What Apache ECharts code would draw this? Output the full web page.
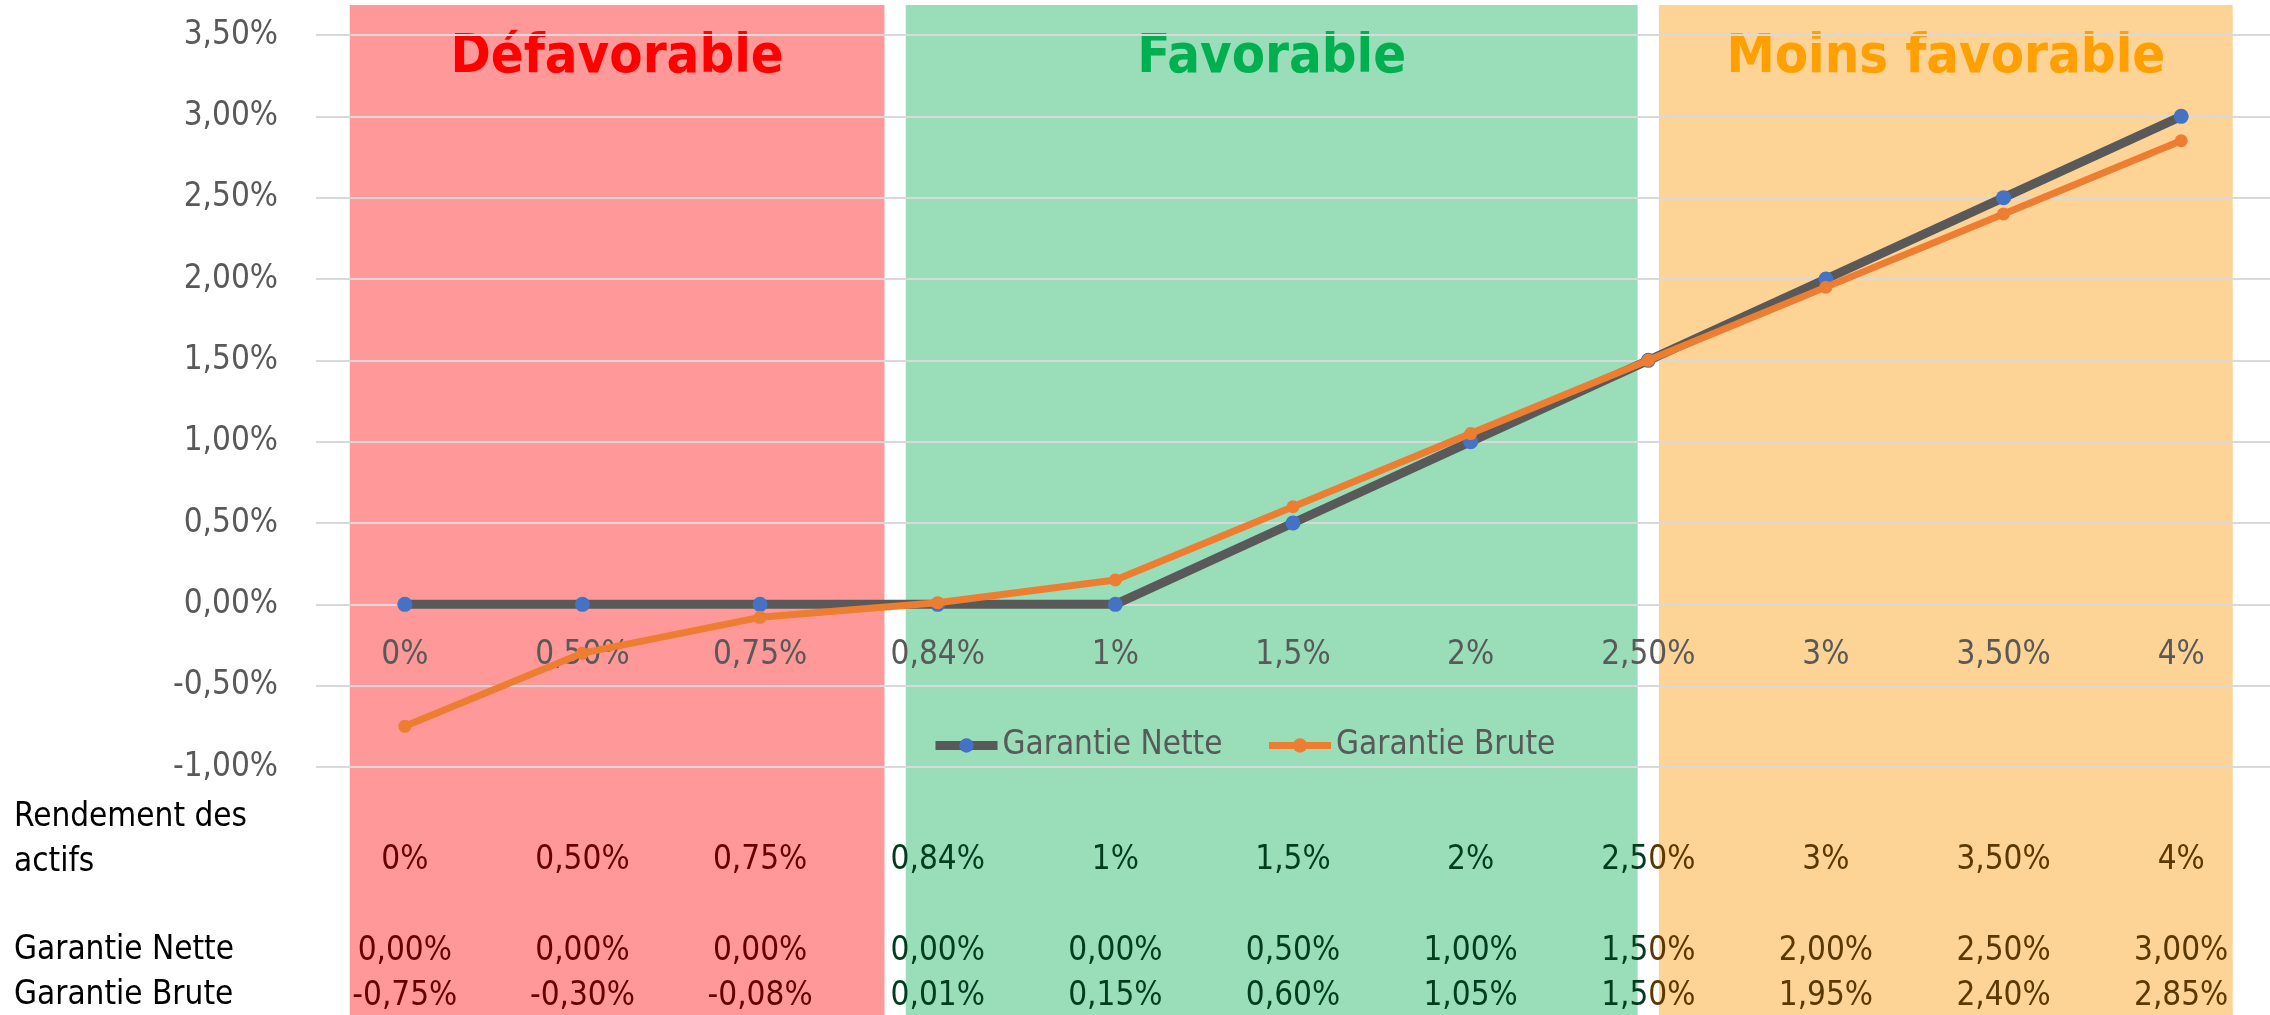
<!DOCTYPE html>
<html>
<head>
<meta charset="utf-8">
<script src="https://cdn.jsdelivr.net/npm/echarts@6/dist/echarts.min.js"></script>
<style>
html, body { margin: 0; padding: 0; background: #fff; }
#chart { width: 2270px; height: 1015px; }
</style>
</head>
<body>
<div id="chart"></div>
<script>
// données
var categories = ['0%', '0,50%', '0,75%', '0,84%', '1%', '1,5%', '2%', '2,50%', '3%', '3,50%', '4%'];
var garantieNette = [0, 0, 0, 0, 0, 0.5, 1, 1.5, 2, 2.5, 3];
var garantieBrute = [-0.75, -0.30, -0.08, 0.01, 0.15, 0.60, 1.05, 1.50, 1.95, 2.40, 2.85];
var yMin = -1, yMax = 3.5, yStep = 0.5;

// zones (en unités d'index de catégorie)
var zoneNames = ['Défavorable', 'Favorable', 'Moins favorable'];
var zoneStart = [-0.31, 2.82, 7.06];
var zoneEnd = [2.70, 6.94, 10.29];

var FONT = '"Liberation Sans Narrow", "DejaVu Sans Condensed", sans-serif';
var FS = 33;
var zoneFill = ['#FF9999', '#99DDB9', '#FDD396'];
var zoneTitle = ['#FF0000', '#00B050', '#FF9F00'];
var zoneText = ['#640000', '#003C1E', '#5A3800'];

var gridTop = 35, gridBottom = 248, gridH = 1015 - gridTop - gridBottom;
// ligne du zéro : décalage de l'axe des x depuis le bas de la grille
var zeroOffset = -(0 - yMin) / (yMax - yMin) * gridH;

function pct(v) {
    return v.toFixed(2).replace('.', ',') + '%';
}

function zoneOf(i) {
    for (var z = 0; z < zoneStart.length; z++) {
        if (i >= zoneStart[z] && i <= zoneEnd[z]) return z;
    }
    return -1;
}

// colonne à cheval entre deux zones : texte coupé en deux couleurs
function tableLabel(value, index) {
    if (zoneOf(index) >= 0) return value;
    return '{a|' + value.slice(0, 3) + '}{b|' + value.slice(3) + '}';
}

var tableRich = {
    a: { color: zoneText[1], fontSize: FS, fontFamily: FONT },
    b: { color: zoneText[2], fontSize: FS, fontFamily: FONT }
};

function tableAxis(data, offset) {
    return {
        type: 'category',
        gridIndex: 0,
        position: 'bottom',
        offset: offset,
        data: data,
        z: 3,
        axisLine: { show: false, onZero: false },
        axisTick: { show: false },
        splitLine: { show: false },
        axisLabel: {
            interval: 0,
            margin: 0,
            fontSize: FS,
            fontFamily: FONT,
            color: function (v, i) { var z = zoneOf(i); return z >= 0 ? zoneText[z] : '#000'; },
            formatter: tableLabel,
            rich: tableRich
        }
    };
}

var zoneAreas = zoneNames.map(function (name, z) {
    return [{
        name: name,
        xAxis: zoneStart[z],
        yAxis: 0,
        itemStyle: { color: zoneFill[z] },
        label: { color: zoneTitle[z] }
    }, {
        xAxis: zoneEnd[z],
        yAxis: 1
    }];
});

var option = {
    backgroundColor: '#fff',
    animation: false,
    textStyle: { fontFamily: FONT },
    grid: [
        { left: 316, top: gridTop, width: 1961, bottom: gridBottom },
        { left: 316, top: 5, width: 1961, bottom: 0 }
    ],
    legend: {
        left: 926,
        top: 724,
        itemWidth: 62,
        itemHeight: 18,
        itemGap: 43,
        lineStyle: { width: 'inherit' },
        textStyle: { fontSize: FS, color: '#595959', fontFamily: FONT },
        data: ['Garantie Nette', 'Garantie Brute']
    },
    xAxis: [
        {
            type: 'category',
            gridIndex: 0,
            position: 'bottom',
            offset: zeroOffset,
            data: categories,
            z: 3,
            axisLine: { show: false, onZero: false },
            axisTick: { show: false },
            axisLabel: { interval: 0, margin: 35, fontSize: FS, fontFamily: FONT, color: '#595959' }
        },
        tableAxis(categories, 77),
        tableAxis(garantieNette.map(pct), 168),
        tableAxis(garantieBrute.map(pct), 213),
        { type: 'value', gridIndex: 1, min: -0.5, max: 10.5, show: false }
    ],
    yAxis: [
        {
            type: 'value',
            gridIndex: 0,
            min: yMin,
            max: yMax,
            interval: yStep,
            z: 2,
            axisLine: { show: false },
            axisTick: { show: false },
            splitLine: { lineStyle: { color: '#D9D9D9', width: 2 } },
            axisLabel: {
                margin: 38,
                fontSize: FS,
                fontFamily: FONT,
                color: '#595959',
                formatter: pct
            }
        },
        { type: 'value', gridIndex: 1, min: 0, max: 1, show: false }
    ],
    graphic: [
        { type: 'text', left: 14, top: 795, style: { text: 'Rendement des\nactifs', fontSize: FS, fontFamily: FONT, fill: '#000', lineHeight: 45 } },
        { type: 'text', left: 14, top: 934, style: { text: 'Garantie Nette', fontSize: FS, fontFamily: FONT, fill: '#000' } },
        { type: 'text', left: 14, top: 979, style: { text: 'Garantie Brute', fontSize: FS, fontFamily: FONT, fill: '#000' } }
    ],
    series: [
        {
            name: 'zones',
            type: 'line',
            xAxisIndex: 4,
            yAxisIndex: 1,
            data: [],
            z: 1,
            silent: true,
            markArea: {
                silent: true,
                label: {
                    show: true,
                    position: 'insideTop',
                    distance: 26,
                    fontSize: 54,
                    fontWeight: 'bold',
                    fontFamily: FONT
                },
                data: zoneAreas
            }
        },
        {
            name: 'Garantie Nette',
            type: 'line',
            xAxisIndex: 0,
            yAxisIndex: 0,
            z: 4,
            data: garantieNette,
            symbol: 'circle',
            symbolSize: 15,
            lineStyle: { color: '#595959', width: 9 },
            itemStyle: { color: '#4472C4' }
        },
        {
            name: 'Garantie Brute',
            type: 'line',
            xAxisIndex: 0,
            yAxisIndex: 0,
            z: 5,
            data: garantieBrute,
            symbol: 'circle',
            symbolSize: 13,
            lineStyle: { color: '#ED7D31', width: 7 },
            itemStyle: { color: '#ED7D31' }
        }
    ]
};

var myChart = echarts.init(document.getElementById('chart'));
myChart.setOption(option);
</script>
</body>
</html>
